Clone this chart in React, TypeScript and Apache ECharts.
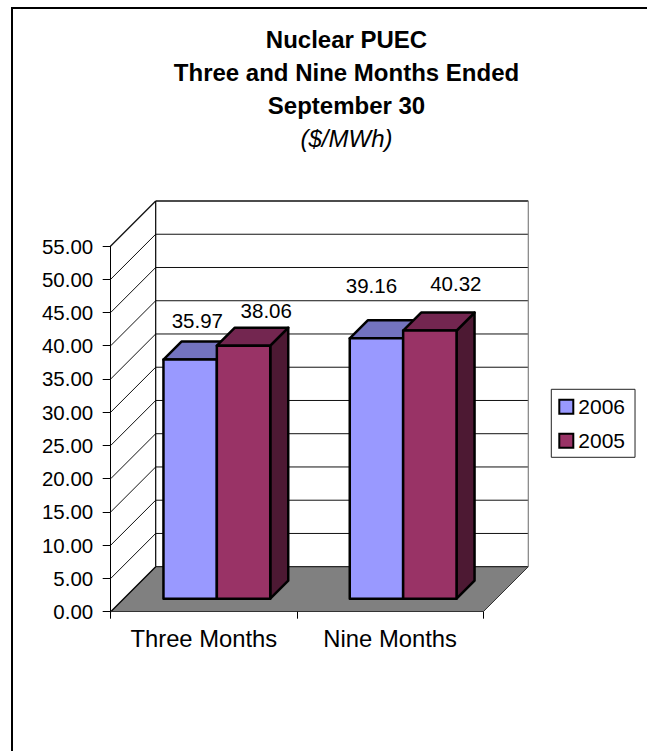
import React, { useEffect, useRef } from "react";
import * as echarts from "echarts";

const categories = ["Three Months", "Nine Months"];
const series2006 = [35.97, 39.16];
const series2005 = [38.06, 40.32];
const seriesNames = ["2006", "2005"];
const yTicks = [0, 5, 10, 15, 20, 25, 30, 35, 40, 45, 50, 55];
const titleLines = ["Nuclear PUEC", "Three and Nine Months Ended", "September 30"];
const subtitle = "($/MWh)";

const W = 647;
const H = 751;
const GRID = { left: 110.7, right: 483.3, top: 246, bottom: 611.7 };
const WALL_DEPTH = 45;
const BAR_FRONT = 13;
const BAR_DEPTH = 18;
const BAR_RATIO = 0.2866;
const FONT = "'Liberation Sans', Arial, sans-serif";

// Hand-placed data labels in the source: offset of each label from its bar's top-front centre.
const labelOffsets2006 = [[7.2, -39], [-5, -53]];
const labelOffsets2005 = [[22.7, -35], [26, -47]];

function wallItem(params: any, api: any) {
  const v = api.value(0);
  const [cx, y] = api.coord([0, v]);
  const cw = api.size([1, 0])[0];
  const x = cx - cw / 2;
  const xr = x + cw * categories.length;
  const line = (x1: number, y1: number, x2: number, y2: number, stroke: string, lineWidth: number) => ({
    type: "line",
    shape: { x1, y1, x2, y2 },
    style: { stroke, lineWidth },
    silent: true,
  });
  const children: any[] = [];
  if (v === 0) {
    children.push({
      type: "polygon",
      shape: {
        points: [
          [x, y],
          [xr, y],
          [xr + WALL_DEPTH, y - WALL_DEPTH],
          [x + WALL_DEPTH, y - WALL_DEPTH],
        ],
      },
      style: { fill: "#808080", stroke: "none" },
    });
    children.push(line(x, y, x + WALL_DEPTH, y - WALL_DEPTH, "#000", 1.3));
    children.push(line(x + WALL_DEPTH, y - WALL_DEPTH, xr + WALL_DEPTH, y - WALL_DEPTH, "#000", 1));
    children.push(line(xr, y, xr + WALL_DEPTH, y - WALL_DEPTH, "#333", 1));
  } else {
    const top = v === yTicks[yTicks.length - 1];
    children.push(line(x, y, x + WALL_DEPTH, y - WALL_DEPTH, "#111", top ? 1.3 : 1));
    children.push(line(x + WALL_DEPTH, y - WALL_DEPTH, xr + WALL_DEPTH, y - WALL_DEPTH, "#111", top ? 1.6 : 1));
  }
  if (v === yTicks[yTicks.length - 1]) {
    const [, y0] = api.coord([0, 0]);
    children.push(line(x + WALL_DEPTH, y - WALL_DEPTH, x + WALL_DEPTH, y0 - WALL_DEPTH, "#000", 1.2));
    children.push(line(xr + WALL_DEPTH, y - WALL_DEPTH, xr + WALL_DEPTH, y0 - WALL_DEPTH, "#808080", 1.2));
  }
  return { type: "group", children };
}

function barItem(
  slot: number,
  front: string,
  topFill: string,
  sideFill: string,
  offsets: number[][],
) {
  return (params: any, api: any) => {
    const i = api.value(0);
    const val = api.value(1);
    const [cx, y0] = api.coord([i, 0]);
    const [, yv] = api.coord([i, val]);
    const w = api.size([1, 0])[0] * BAR_RATIO;
    const x0 = cx - w + BAR_FRONT + slot * w;
    const x1 = x0 + w;
    const yb = y0 - BAR_FRONT;
    const yt = yv - BAR_FRONT;
    const d = BAR_DEPTH;
    const st = { stroke: "#000", lineWidth: 2.5, lineJoin: "round" };
    const off = offsets[params.dataIndex];
    return {
      type: "group",
      children: [
        {
          type: "polygon",
          shape: { points: [[x1, yb], [x1 + d, yb - d], [x1 + d, yt - d], [x1, yt]] },
          style: { fill: sideFill, ...st },
        },
        {
          type: "polygon",
          shape: { points: [[x0, yt], [x1, yt], [x1 + d, yt - d], [x0 + d, yt - d]] },
          style: { fill: topFill, ...st },
        },
        {
          type: "polygon",
          shape: { points: [[x0, yb], [x1, yb], [x1, yt], [x0, yt]] },
          style: { fill: front, ...st },
        },
        {
          type: "text",
          style: {
            x: (x0 + x1) / 2 + off[0],
            y: yt + off[1],
            text: val.toFixed(2),
            fill: "#000",
            font: `20.5px ${FONT}`,
            align: "center",
            verticalAlign: "middle",
          },
        },
      ],
    };
  };
}

export default function App() {
  const ref = useRef<HTMLDivElement>(null);
  useEffect(() => {
    document.body.style.margin = "0";
    const chart = echarts.init(ref.current!, null, { renderer: "svg" });
    chart.setOption({
      animation: false,
      backgroundColor: "#fff",
      textStyle: { fontFamily: FONT },
      grid: {
        left: GRID.left,
        top: GRID.top,
        width: GRID.right - GRID.left,
        height: GRID.bottom - GRID.top,
      },
      xAxis: {
        type: "category",
        data: categories,
        boundaryGap: true,
        axisLine: { show: true, onZero: false, lineStyle: { color: "#333", width: 1 } },
        axisTick: { show: true, length: 7, inside: false, alignWithLabel: false, lineStyle: { color: "#000", width: 1 } },
        axisLabel: { color: "#000", fontSize: 23.8, fontFamily: FONT, margin: 15, interval: 0 },
        splitLine: { show: false },
        z: 5,
      },
      yAxis: {
        type: "value",
        min: 0,
        max: 55,
        interval: 5,
        axisLine: { show: true, lineStyle: { color: "#000", width: 1 } },
        axisTick: { show: true, length: 8, lineStyle: { color: "#000", width: 1 } },
        axisLabel: { color: "#000", fontSize: 20.5, fontFamily: FONT, margin: 17.5, formatter: (v: number) => v.toFixed(2) },
        splitLine: { show: false },
        z: 5,
      },
      legend: {
        show: true,
        orient: "vertical",
        left: 551.3,
        top: 389.3,
        padding: [7, 10, 6, 7],
        itemWidth: 14,
        itemHeight: 14,
        itemGap: 13,
        icon: "rect",
        data: seriesNames,
        backgroundColor: "#fff",
        borderColor: "#222",
        borderWidth: 1,
        textStyle: { color: "#000", fontSize: 21, fontFamily: FONT },
      },
      graphic: [
        { type: "line", shape: { x1: 11, y1: 8, x2: 647, y2: 8 }, style: { stroke: "#000", lineWidth: 2 } },
        { type: "line", shape: { x1: 12, y1: 7, x2: 12, y2: 751 }, style: { stroke: "#000", lineWidth: 2 } },
        ...titleLines.map((t, i) => ({
          type: "text",
          style: {
            x: 346.5,
            y: 39 + i * 33,
            text: t,
            fill: "#000",
            font: `bold 24px ${FONT}`,
            align: "center",
            verticalAlign: "middle",
          },
        })),
        {
          type: "text",
          style: {
            x: 346.5,
            y: 138,
            text: subtitle,
            fill: "#000",
            font: `italic 24px ${FONT}`,
            align: "center",
            verticalAlign: "middle",
          },
        },
      ],
      series: [
        {
          type: "custom",
          name: "walls",
          data: yTicks.map((v) => [v]),
          encode: { y: 0 },
          coordinateSystem: "cartesian2d",
          renderItem: wallItem,
          silent: true,
          z: 1,
        },
        {
          type: "custom",
          name: seriesNames[0],
          data: series2006.map((v, i) => [i, v]),
          encode: { x: 0, y: 1 },
          renderItem: barItem(0, "#9999FF", "#7373BF", "#4C4C80", labelOffsets2006),
          itemStyle: { color: "#9999FF", borderColor: "#000", borderWidth: 2 },
          z: 2,
        },
        {
          type: "custom",
          name: seriesNames[1],
          data: series2005.map((v, i) => [i, v]),
          encode: { x: 0, y: 1 },
          renderItem: barItem(1, "#993366", "#732650", "#4D1933", labelOffsets2005),
          itemStyle: { color: "#993366", borderColor: "#000", borderWidth: 2 },
          z: 3,
        },
      ],
    });
    return () => chart.dispose();
  }, []);
  return <div ref={ref} style={{ width: W, height: H }} />;
}
